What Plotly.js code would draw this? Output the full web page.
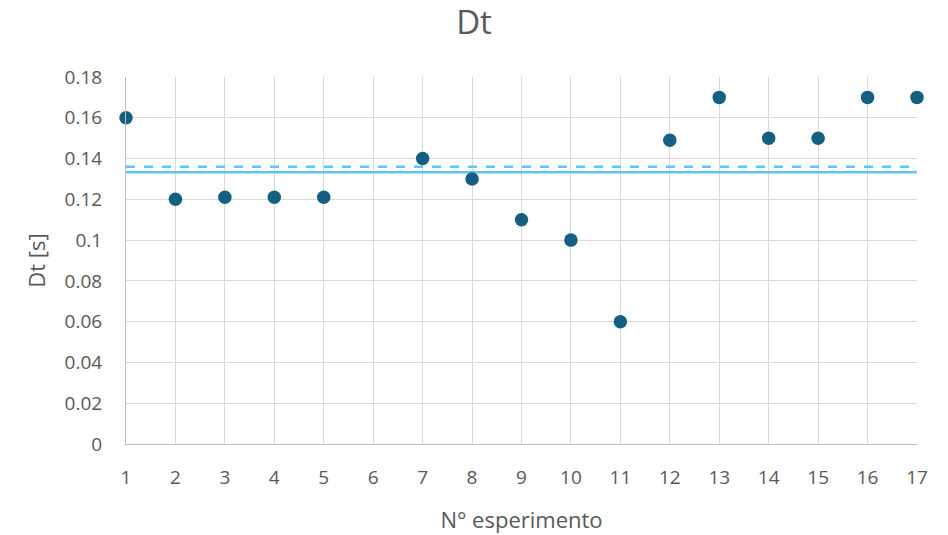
<!DOCTYPE html>
<html>
<head>
<meta charset="utf-8">
<script src="https://cdn.plot.ly/plotly-3.0.1.min.js"></script>
<style>html,body{margin:0;padding:0;background:#fff;}#chart{width:948px;height:535px;}</style>
</head>
<body>
<div id="chart"></div>
<script>
const experiments = [1, 2, 3, 4, 5, 6, 7, 8, 9, 10, 11, 12, 13, 14, 15, 16, 17];
const dtValues = [0.16, 0.12, 0.121, 0.121, 0.121, null, 0.14, 0.13, 0.11, 0.10, 0.06, 0.149, 0.17, 0.15, 0.15, 0.17, 0.17];
const lineX = [1, 17];
const solidLine = [0.1333, 0.1333];
const dashedLine = [0.136, 0.136];
const yTicks = [0, 0.02, 0.04, 0.06, 0.08, 0.1, 0.12, 0.14, 0.16, 0.18];
const yTickText = ["0", "0.02", "0.04", "0.06", "0.08", "0.1", "0.12", "0.14", "0.16", "0.18"];
const font = "Open Sans, Liberation Sans, sans-serif";
const gray = "#595959";

const traces = [
  {x: lineX, y: solidLine, mode: "lines", line: {color: "#5CC8F2", width: 2.5}, hoverinfo: "skip"},
  {x: lineX, y: dashedLine, mode: "lines", line: {color: "#5CC8F2", width: 2.5, dash: "dash"}, hoverinfo: "skip"},
  {x: experiments, y: dtValues, mode: "markers", marker: {color: "#156082", size: 13.5}, cliponaxis: false}
];

const layout = {
  width: 948, height: 535,
  margin: {l: 126, r: 31, t: 77, b: 91},
  paper_bgcolor: "#fff", plot_bgcolor: "#fff",
  showlegend: false,
  font: {family: font, color: gray, size: 19},
  title: {text: "Dt", font: {family: font, size: 33, color: gray}, x: 0.5, xanchor: "center", y: 0.958, yanchor: "middle"},
  xaxis: {
    range: [1, 17], tickmode: "array", tickvals: experiments, ticktext: experiments.map(String),
    showgrid: true, gridcolor: "#d9d9d9", gridwidth: 1,
    showline: true, linecolor: "#bfbfbf", linewidth: 1,
    zeroline: false, ticks: "", ticklabelstandoff: 16,
    tickfont: {family: font, size: 19, color: gray},
    title: {text: "N° esperimento", font: {family: font, size: 22, color: gray}, standoff: 23}
  },
  yaxis: {
    range: [0, 0.18], tickmode: "array", tickvals: yTicks, ticktext: yTickText,
    showgrid: true, gridcolor: "#d9d9d9", gridwidth: 1,
    showline: true, linecolor: "#bfbfbf", linewidth: 1,
    zeroline: false, ticks: "", ticklabelstandoff: 19,
    tickfont: {family: font, size: 19, color: gray},
    title: {text: "Dt [s]", font: {family: font, size: 22, color: gray}, standoff: 12}
  }
};

Plotly.newPlot("chart", traces, layout, {displayModeBar: false, staticPlot: true});
</script>
</body>
</html>
